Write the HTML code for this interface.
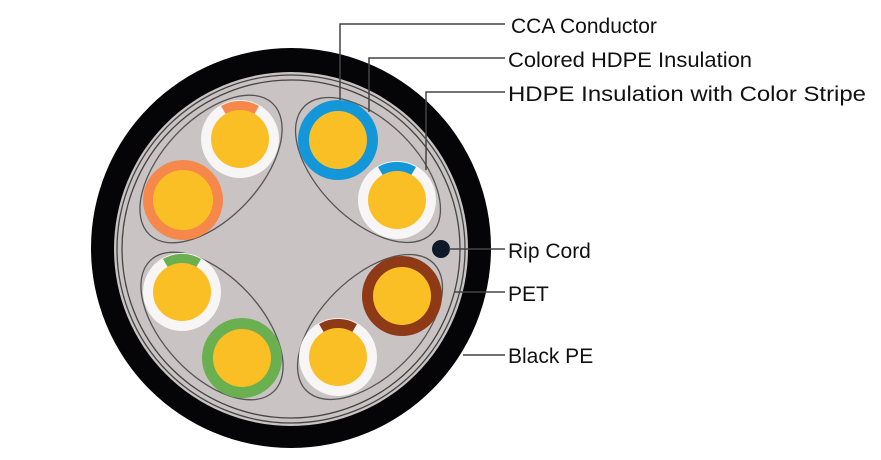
<!DOCTYPE html>
<html><head><meta charset="utf-8"><style>
html,body{margin:0;padding:0;background:#fff;}
svg{display:block;}
text{font-family:"Liberation Sans",Arial,sans-serif;font-size:21px;fill:#111;}
</style></head><body>
<svg width="881" height="460" viewBox="0 0 881 460" xmlns="http://www.w3.org/2000/svg">
<circle cx="291" cy="248" r="200" fill="#050508"/>
<circle cx="291" cy="249" r="177" fill="#c9c3c3"/>
<circle cx="291" cy="249" r="174" fill="none" stroke="#444" stroke-width="1.3"/>
<circle cx="291" cy="249" r="169" fill="none" stroke="#444" stroke-width="1.3"/>

<g fill="none" stroke="#555" stroke-width="1.3">
<ellipse cx="211" cy="169" rx="90" ry="49" transform="rotate(-47 211 169)"/>
<ellipse cx="368" cy="170" rx="90" ry="49" transform="rotate(45 368 170)"/>
<ellipse cx="212" cy="326" rx="90" ry="49" transform="rotate(47 212 326)"/>
<ellipse cx="370" cy="327" rx="90" ry="49" transform="rotate(-45 370 327)"/>
</g>

<circle cx="183" cy="200" r="40" fill="#f5884a"/><circle cx="183" cy="200" r="30" fill="#fbbf26"/>
<circle cx="338" cy="140" r="40" fill="#1497d8"/><circle cx="338" cy="140" r="29" fill="#fbbf26"/>
<circle cx="242" cy="358" r="40" fill="#6aaf50"/><circle cx="242" cy="358" r="29" fill="#fbbf26"/>
<circle cx="402" cy="296" r="40" fill="#8e3a17"/><circle cx="402" cy="296" r="29" fill="#fbbf26"/>

<g>
<circle cx="240" cy="139" r="39" fill="#f7f5f5"/>
<path d="M221 106 A38 38 0 0 1 259 106 L252 118 A25 25 0 0 0 228 118 Z" fill="#f5884a"/>
<circle cx="240" cy="139" r="29" fill="#fbbf26"/>

<circle cx="397" cy="200" r="39" fill="#f7f5f5"/>
<path d="M378 167 A38 38 0 0 1 416 167 L409 179 A25 25 0 0 0 385 179 Z" fill="#1497d8"/>
<circle cx="397" cy="200" r="29" fill="#fbbf26"/>

<circle cx="182" cy="292" r="39" fill="#f7f5f5"/>
<path d="M163 259 A38 38 0 0 1 201 259 L194 271 A25 25 0 0 0 170 271 Z" fill="#6aaf50"/>
<circle cx="182" cy="292" r="29" fill="#fbbf26"/>

<circle cx="338" cy="357" r="39" fill="#f7f5f5"/>
<path d="M319 324 A38 38 0 0 1 357 324 L350 336 A25 25 0 0 0 326 336 Z" fill="#8e3a17"/>
<circle cx="338" cy="357" r="29" fill="#fbbf26"/>
</g>

<circle cx="441" cy="249" r="9" fill="#0e1a2a"/>

<g fill="none" stroke="#444" stroke-width="1.5">
<polyline points="340,100 340,24 505,24"/>
<polyline points="369,112 369,58 505,58"/>
<polyline points="426,170 426,92 505,92"/>
<line x1="449" y1="249" x2="505" y2="249"/>
<line x1="455" y1="292" x2="505" y2="292"/>
<line x1="463" y1="355" x2="505" y2="355"/>
</g>
<text x="511" y="33">CCA Conductor</text>
<text x="508" y="67" textLength="244" lengthAdjust="spacingAndGlyphs">Colored HDPE Insulation</text>
<text x="508" y="101" textLength="358" lengthAdjust="spacingAndGlyphs">HDPE Insulation with Color Stripe</text>
<text x="508" y="258">Rip Cord</text>
<text x="508" y="301">PET</text>
<text x="508" y="363">Black PE</text>
</svg>
</body></html>
